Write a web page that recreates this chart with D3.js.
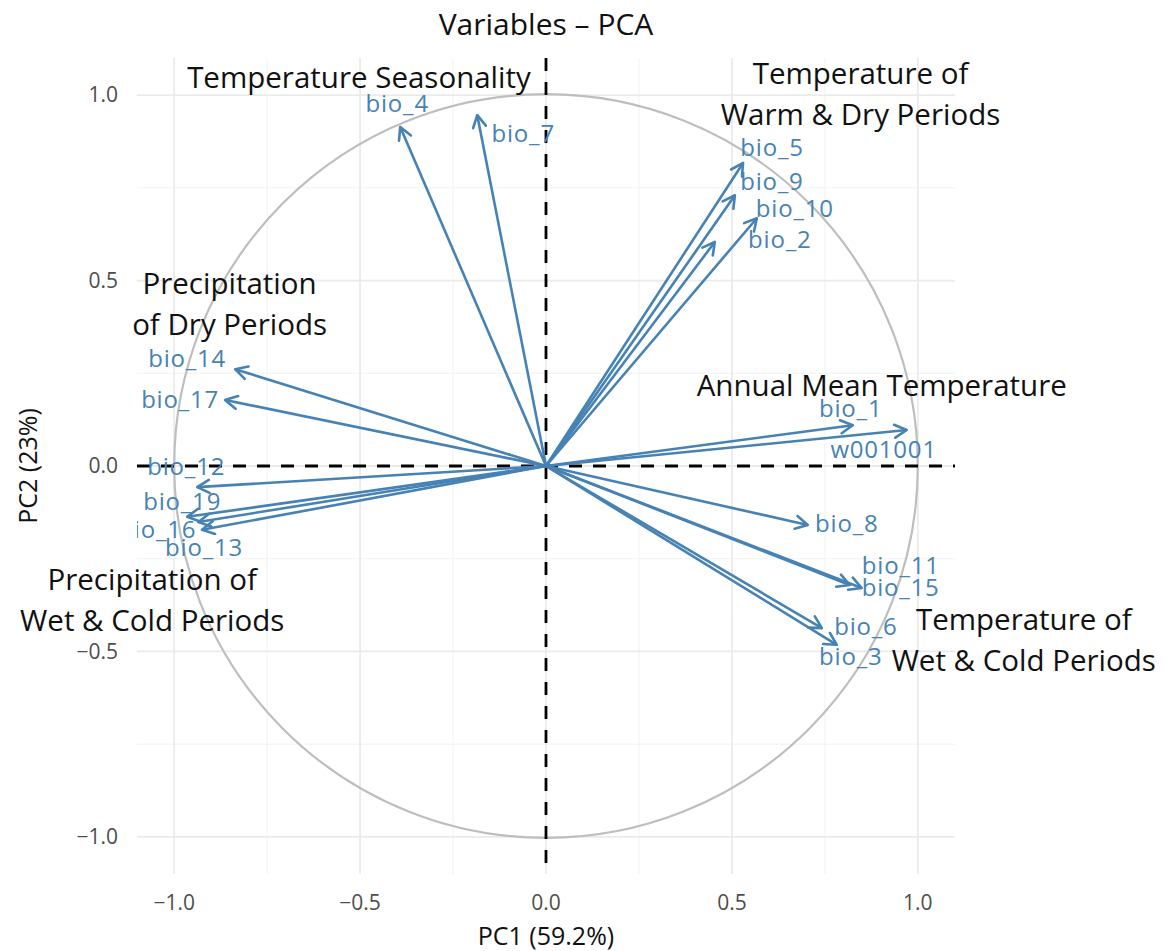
<!DOCTYPE html>
<html>
<head>
<meta charset="utf-8">
<script src="https://cdn.jsdelivr.net/npm/d3@7"></script>
<style>
  html, body { margin: 0; padding: 0; background: #fff; }
  svg { display: block; font-family: "Open Sans", sans-serif; }
</style>
</head>
<body>
<div id="chart"></div>
<script>
// loadings
const varNames = ['bio_1', 'w001001', 'bio_2', 'bio_3', 'bio_4', 'bio_5', 'bio_6', 'bio_7', 'bio_8', 'bio_9',
  'bio_10', 'bio_11', 'bio_12', 'bio_13', 'bio_14', 'bio_15', 'bio_16', 'bio_17', 'bio_19'];
const pc1 = [0.825, 0.970, 0.454, 0.782, -0.392, 0.530, 0.742, -0.185, 0.704, 0.508,
  0.567, 0.817, -0.938, -0.925, -0.836, 0.849, -0.935, -0.863, -0.965];
const pc2 = [0.110, 0.097, 0.604, -0.482, 0.914, 0.817, -0.437, 0.946, -0.159, 0.730,
  0.668, -0.321, -0.057, -0.172, 0.261, -0.329, -0.151, 0.178, -0.137];

// repelled label offsets (px) from the arrow tip
const labelNudge = {
  bio_1: [-2, -17], w001001: [-23, 20], bio_2: [65, -2], bio_3: [14, 12], bio_4: [-3, -23],
  bio_5: [29, -15], bio_6: [44, -1], bio_7: [46, 18], bio_8: [39, -1], bio_9: [37, -14],
  bio_10: [38, -10], bio_11: [51, -19], bio_12: [-11, -21], bio_13: [2, 18], bio_14: [-48, -11],
  bio_15: [39, 0], bio_16: [-41, 8], bio_17: [-45, 0], bio_19: [-5, -15]
};

const majorTicks = [-1, -0.5, 0, 0.5, 1];
const minorTicks = [-0.75, -0.25, 0.25, 0.75];
const tickLabels = ['\u22121.0', '\u22120.5', '0.0', '0.5', '1.0'];

// text added over the plot, in data units
const notes = [
  { lines: ['Temperature Seasonality'], x: -0.503, y: 1.046 },
  { lines: ['Temperature of', 'Warm & Dry Periods'], x: 0.846, y: 1.059 },
  { lines: ['Precipitation', 'of Dry Periods'], x: -0.851, y: 0.491 },
  { lines: ['Annual Mean Temperature'], x: 0.903, y: 0.216 },
  { lines: ['Precipitation of', 'Wet & Cold Periods'], x: -1.059, y: -0.307 },
  { lines: ['Temperature of', 'Wet & Cold Periods'], x: 1.285, y: -0.415 }
];

const width = 1168;
const height = 951;
const blue = '#4682b4';

const x = d3.scaleLinear().domain([-1.1, 1.1]).range([137, 955]);
const y = d3.scaleLinear().domain([-1.1, 1.1]).range([874, 58]);

const svg = d3.select('#chart').append('svg')
  .attr('width', width)
  .attr('height', height);

const defs = svg.append('defs');
defs.append('clipPath').attr('id', 'panel')
  .append('rect')
    .attr('x', x(-1.1)).attr('y', y(1.1))
    .attr('width', x(1.1) - x(-1.1)).attr('height', y(-1.1) - y(1.1));

defs.append('marker')
  .attr('id', 'head')
  .attr('viewBox', '0 0 16 16')
  .attr('refX', 14).attr('refY', 8)
  .attr('markerWidth', 16).attr('markerHeight', 16)
  .attr('markerUnits', 'userSpaceOnUse')
  .attr('orient', 'auto')
  .append('path')
    .attr('d', 'M2,1.5 L14,8 L2,14.5')
    .attr('fill', 'none')
    .attr('stroke', blue)
    .attr('stroke-width', 2.6)
    .attr('stroke-linecap', 'round')
    .attr('stroke-linejoin', 'round');

// grid
const grid = svg.append('g');
grid.selectAll('.minor-v').data(minorTicks).enter().append('line')
  .attr('x1', d => x(d)).attr('x2', d => x(d))
  .attr('y1', y(1.1)).attr('y2', y(-1.1))
  .attr('stroke', '#f2f2f2').attr('stroke-width', 1);
grid.selectAll('.minor-h').data(minorTicks).enter().append('line')
  .attr('y1', d => y(d)).attr('y2', d => y(d))
  .attr('x1', x(-1.1)).attr('x2', x(1.1))
  .attr('stroke', '#f2f2f2').attr('stroke-width', 1);
grid.selectAll('.major-v').data(majorTicks).enter().append('line')
  .attr('x1', d => x(d)).attr('x2', d => x(d))
  .attr('y1', y(1.1)).attr('y2', y(-1.1))
  .attr('stroke', '#ebebeb').attr('stroke-width', 1.8);
grid.selectAll('.major-h').data(majorTicks).enter().append('line')
  .attr('y1', d => y(d)).attr('y2', d => y(d))
  .attr('x1', x(-1.1)).attr('x2', x(1.1))
  .attr('stroke', '#ebebeb').attr('stroke-width', 1.8);

// tick labels
svg.append('g').selectAll('text').data(majorTicks).enter().append('text')
  .attr('x', d => x(d)).attr('y', 903).attr('dy', '0.35em')
  .attr('text-anchor', 'middle')
  .attr('font-size', 21).attr('fill', '#4d4d4d')
  .text((d, i) => tickLabels[i]);
svg.append('g').selectAll('text').data(majorTicks).enter().append('text')
  .attr('x', 118).attr('y', d => y(d)).attr('dy', '0.35em')
  .attr('text-anchor', 'end')
  .attr('font-size', 21).attr('fill', '#4d4d4d')
  .text((d, i) => tickLabels[i]);

// axis titles
svg.append('text')
  .attr('x', x(0)).attr('y', 936).attr('dy', '0.35em')
  .attr('text-anchor', 'middle').attr('font-size', 25).attr('fill', '#111')
  .text('PC1 (59.2%)');
svg.append('text')
  .attr('transform', `translate(28,${y(0)}) rotate(-90)`)
  .attr('dy', '0.35em')
  .attr('text-anchor', 'middle').attr('font-size', 25).attr('fill', '#111')
  .text('PC2 (23%)');

const panel = svg.append('g').attr('clip-path', 'url(#panel)');

// correlation circle
panel.append('circle')
  .attr('cx', x(0)).attr('cy', y(0))
  .attr('r', x(1) - x(0))
  .attr('fill', 'none')
  .attr('stroke', '#bebebe')
  .attr('stroke-width', 2.2);

// zero lines
panel.append('line')
  .attr('x1', x(-1.1)).attr('x2', x(1.1))
  .attr('y1', y(0)).attr('y2', y(0))
  .attr('stroke', '#000').attr('stroke-width', 2.8)
  .attr('stroke-dasharray', '13,11');
panel.append('line')
  .attr('x1', x(0)).attr('x2', x(0))
  .attr('y1', y(1.1)).attr('y2', y(-1.1))
  .attr('stroke', '#000').attr('stroke-width', 2.8)
  .attr('stroke-dasharray', '13,11');

// arrows
panel.append('g').selectAll('line').data(varNames).enter().append('line')
  .attr('x1', x(0)).attr('y1', y(0))
  .attr('x2', (d, i) => x(pc1[i]))
  .attr('y2', (d, i) => y(pc2[i]))
  .attr('stroke', blue)
  .attr('stroke-width', 2.6)
  .attr('marker-end', 'url(#head)');

// variable labels
panel.append('g').selectAll('text').data(varNames).enter().append('text')
  .attr('x', (d, i) => x(pc1[i]) + labelNudge[d][0])
  .attr('y', (d, i) => y(pc2[i]) + labelNudge[d][1])
  .attr('dy', '0.35em')
  .attr('text-anchor', 'middle')
  .attr('font-size', 24)
  .attr('letter-spacing', 0.8)
  .attr('fill', blue)
  .text(d => d);

// annotations
const noteG = svg.append('g');
notes.forEach(n => {
  n.lines.forEach((line, j) => {
    noteG.append('text')
      .attr('x', x(n.x))
      .attr('y', y(n.y) + j * 41)
      .attr('dy', '0.35em')
      .attr('text-anchor', 'middle')
      .attr('font-size', 29.5)
      .attr('fill', '#111')
      .text(line);
  });
});

// title
svg.append('text')
  .attr('x', x(0)).attr('y', 24).attr('dy', '0.35em')
  .attr('text-anchor', 'middle')
  .attr('font-size', 30)
  .attr('fill', '#111')
  .text('Variables \u2013 PCA');
</script>
</body>
</html>
